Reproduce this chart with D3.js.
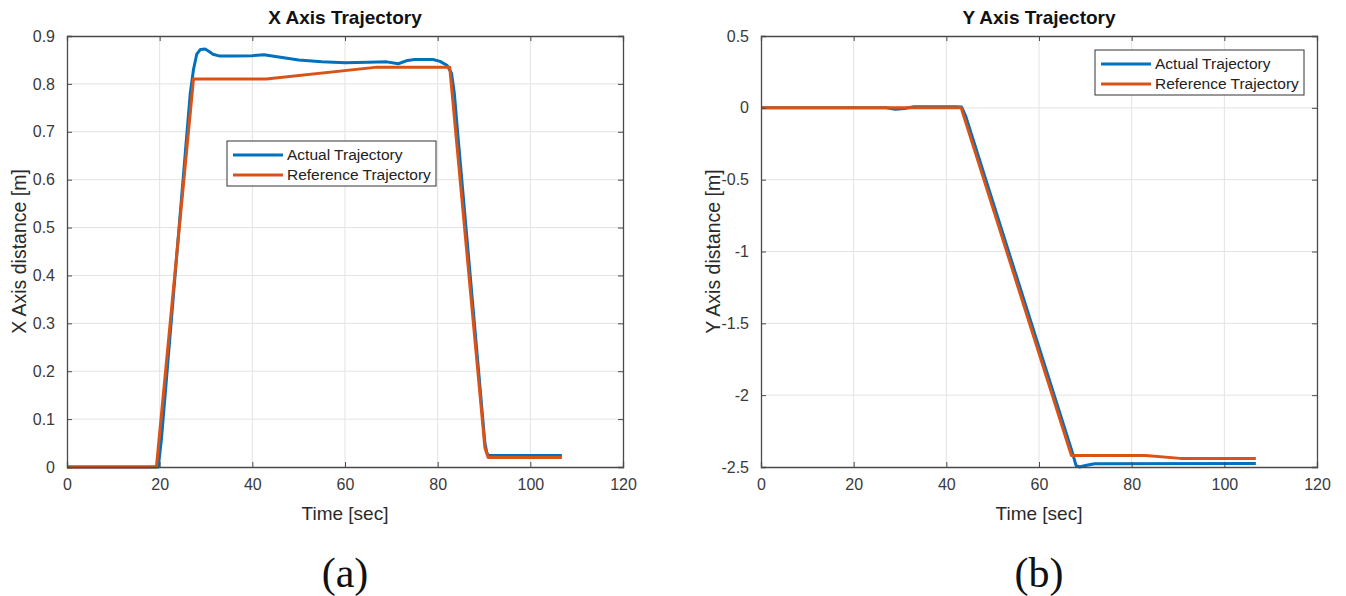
<!DOCTYPE html>
<html>
<head>
<meta charset="utf-8">
<script src="https://cdn.jsdelivr.net/npm/d3@7"></script>
<style>
  body { margin: 0; background: #fff; }
  svg { display: block; font-family: "Liberation Sans", Arial, sans-serif; }
</style>
</head>
<body>
<svg id="chart" width="1346" height="596"></svg>
<script>
// tick values
const timeTicks = [0, 20, 40, 60, 80, 100, 120];
const xDistTicks = [0, 0.1, 0.2, 0.3, 0.4, 0.5, 0.6, 0.7, 0.8, 0.9];
const yDistTicks = [-2.5, -2, -1.5, -1, -0.5, 0, 0.5];

const seriesNames = ["Actual Trajectory", "Reference Trajectory"];
const seriesColors = ["#0072BD", "#D95319"];

// [time, value] pairs, X axis
const xActual = [
  [0, 0], [19.7, 0], [20.4, 0.06], [26.6, 0.78], [27.3, 0.83], [28, 0.862], [28.8, 0.872],
  [29.8, 0.873], [30.6, 0.868], [31.5, 0.862], [33, 0.858], [36, 0.858], [40, 0.859],
  [42.5, 0.861], [45, 0.857], [50, 0.85], [55, 0.846], [60, 0.844], [65, 0.845], [69, 0.846],
  [71.5, 0.842], [73.5, 0.849], [75, 0.851], [79, 0.851], [80.5, 0.847], [82, 0.839],
  [83, 0.822], [83.6, 0.78], [84.3, 0.70], [90.2, 0.05], [90.6, 0.03], [91, 0.024], [106.8, 0.024]
];
const xReference = [
  [0, 0], [19.3, 0], [27.3, 0.81], [43, 0.81], [67, 0.835], [82.6, 0.835],
  [90.2, 0.04], [90.9, 0.02], [106.8, 0.02]
];

// [time, value] pairs, Y axis
const yActual = [
  [0, 0], [27, 0], [29, -0.01], [31, -0.005], [33, 0.008], [42, 0.008], [43.3, 0.005],
  [44.2, -0.06], [67.3, -2.41], [68, -2.49], [68.8, -2.5], [70, -2.49], [72, -2.478], [106.8, -2.475]
];
const yReference = [
  [0, 0], [43.2, 0], [67, -2.42], [83, -2.42], [90.5, -2.44], [106.8, -2.44]
];

const svg = d3.select("#chart");
svg.append("rect").attr("width", 1346).attr("height", 596).attr("fill", "#fff");

function drawPanel(opts) {
  const { left, top, width, height, yDomain, yTicks, title, yLabel, caption, series, legend } = opts;

  const x = d3.scaleLinear().domain([0, 120]).range([0, width]);
  const y = d3.scaleLinear().domain(yDomain).range([height, 0]);

  const g = svg.append("g").attr("transform", `translate(${left},${top})`);

  // grid
  g.append("g").selectAll("line").data(timeTicks.slice(1, -1)).join("line")
    .attr("x1", d => x(d)).attr("x2", d => x(d)).attr("y1", 0).attr("y2", height)
    .attr("stroke", "#e3e3e3").attr("stroke-width", 1);
  g.append("g").selectAll("line").data(yTicks.slice(1, -1)).join("line")
    .attr("y1", d => y(d)).attr("y2", d => y(d)).attr("x1", 0).attr("x2", width)
    .attr("stroke", "#e3e3e3").attr("stroke-width", 1);

  // lines
  const line = d3.line().x(d => x(d[0])).y(d => y(d[1]));
  series.forEach((s, i) => {
    g.append("path").datum(s)
      .attr("fill", "none")
      .attr("stroke", seriesColors[i])
      .attr("stroke-width", 3)
      .attr("stroke-linejoin", "round")
      .attr("d", line);
  });

  // axes (ticks inward, box on)
  const fmt = d => String(d);
  const axB = g.append("g").attr("transform", `translate(0,${height})`)
    .call(d3.axisBottom(x).tickValues(timeTicks).tickSize(-5).tickPadding(12).tickFormat(fmt));
  const axL = g.append("g")
    .call(d3.axisLeft(y).tickValues(yTicks).tickSize(-5).tickPadding(12).tickFormat(fmt));
  const axT = g.append("g")
    .call(d3.axisTop(x).tickValues(timeTicks).tickSize(-5).tickFormat(""));
  const axR = g.append("g").attr("transform", `translate(${width},0)`)
    .call(d3.axisRight(y).tickValues(yTicks).tickSize(-5).tickFormat(""));
  [axB, axL, axT, axR].forEach(a => {
    a.select(".domain").attr("stroke", "#4a4a4a").attr("stroke-width", 1.3);
    a.selectAll(".tick line").attr("stroke", "#4a4a4a");
    a.selectAll(".tick text").attr("fill", "#3a3a3a").style("font-size", "16px")
      .style("font-family", "'Liberation Sans', Arial, sans-serif");
  });

  // title and labels
  g.append("text").attr("x", width / 2).attr("y", -12).attr("text-anchor", "middle")
    .style("font-size", "19px").style("font-weight", "bold").attr("fill", "#111").text(title);
  g.append("text").attr("x", width / 2).attr("y", height + 53).attr("text-anchor", "middle")
    .style("font-size", "19px").attr("fill", "#2a2a2a").text("Time [sec]");
  g.append("text").attr("transform", `translate(${-41},${height / 2}) rotate(-90)`)
    .attr("text-anchor", "middle").style("font-size", "19.5px").attr("fill", "#2a2a2a").text(yLabel);

  // caption
  g.append("text").attr("x", width / 2).attr("y", height + 120).attr("text-anchor", "middle")
    .style("font-family", "'Liberation Serif', 'Times New Roman', serif")
    .style("font-size", "42px").attr("fill", "#111").text(caption);

  // legend
  const lg = g.append("g").attr("transform", `translate(${legend.x - left},${legend.y - top})`);
  lg.append("rect").attr("width", legend.w).attr("height", 45)
    .attr("fill", "#fff").attr("stroke", "#333").attr("stroke-width", 1);
  seriesNames.forEach((name, i) => {
    const ly = 14 + i * 20;
    lg.append("line").attr("x1", 6).attr("x2", 56).attr("y1", ly).attr("y2", ly)
      .attr("stroke", seriesColors[i]).attr("stroke-width", 3);
    lg.append("text").attr("x", 60).attr("y", ly + 5).style("font-size", "15.5px")
      .attr("fill", "#222").text(name);
  });
}

drawPanel({
  left: 67, top: 36, width: 556, height: 431,
  yDomain: [0, 0.9], yTicks: xDistTicks,
  title: "X Axis Trajectory", yLabel: "X Axis distance [m]", caption: "(a)",
  series: [xActual, xReference],
  legend: { x: 227, y: 141, w: 209 }
});

drawPanel({
  left: 761, top: 36, width: 556, height: 431,
  yDomain: [-2.5, 0.5], yTicks: yDistTicks,
  title: "Y Axis Trajectory", yLabel: "Y Axis distance [m]", caption: "(b)",
  series: [yActual, yReference],
  legend: { x: 1095, y: 50, w: 209 }
});
</script>
</body>
</html>
